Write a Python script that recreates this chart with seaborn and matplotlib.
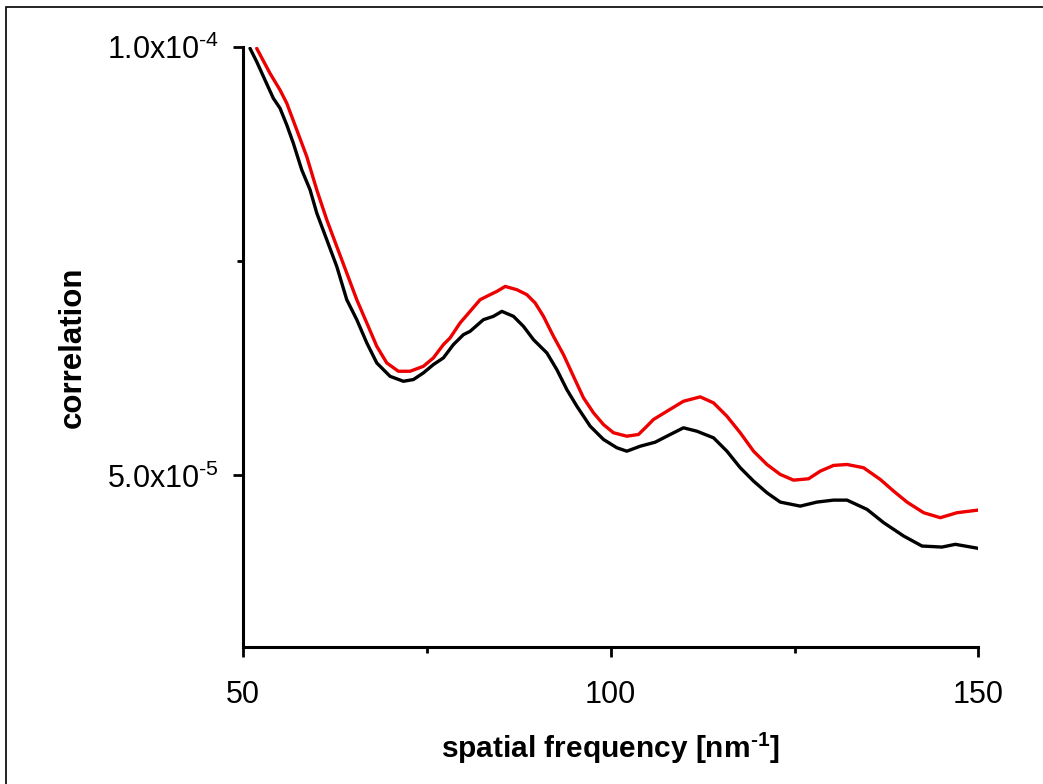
import matplotlib
matplotlib.use("Agg")
import pandas as pd
import seaborn as sns
import matplotlib.pyplot as plt
import matplotlib.ticker as plticker
from matplotlib.patches import Rectangle

# values
freq_black = [50.95, 51.86, 52.99, 54.12, 55.03, 55.95, 56.84, 57.99, 59.12, 60.03,
              61.39, 62.75, 64.11, 65.47, 66.83, 68.19, 70.00, 71.81, 73.17, 74.53,
              75.89, 77.25, 78.61, 79.97, 80.88, 82.69, 84.05, 85.20, 86.78, 88.14,
              89.50, 91.32, 92.68, 94.04, 95.40, 97.21, 99.02, 100.84, 102.20, 104.01,
              106.05, 108.10, 109.90, 111.73, 113.99, 115.81, 117.62, 119.43, 121.25,
              123.06, 125.78, 128.05, 130.31, 132.14, 134.86, 137.12, 139.84, 142.34,
              145.06, 146.87, 150.00]
corr_black = [9.985e-5, 9.829e-5, 9.615e-5, 9.402e-5, 9.286e-5, 9.091e-5, 8.878e-5,
              8.566e-5, 8.333e-5, 8.062e-5, 7.751e-5, 7.439e-5, 7.051e-5, 6.818e-5,
              6.547e-5, 6.313e-5, 6.157e-5, 6.099e-5, 6.119e-5, 6.197e-5, 6.294e-5,
              6.372e-5, 6.527e-5, 6.643e-5, 6.682e-5, 6.818e-5, 6.857e-5, 6.915e-5,
              6.857e-5, 6.740e-5, 6.585e-5, 6.430e-5, 6.235e-5, 6.002e-5, 5.808e-5,
              5.575e-5, 5.420e-5, 5.323e-5, 5.283e-5, 5.341e-5, 5.388e-5, 5.478e-5,
              5.556e-5, 5.516e-5, 5.439e-5, 5.283e-5, 5.090e-5, 4.934e-5, 4.798e-5,
              4.689e-5, 4.642e-5, 4.689e-5, 4.712e-5, 4.712e-5, 4.604e-5, 4.449e-5,
              4.293e-5, 4.176e-5, 4.164e-5, 4.196e-5, 4.149e-5]

freq_red = [51.86, 53.67, 55.03, 55.95, 57.31, 58.67, 60.03, 61.39, 62.75, 64.11,
            65.47, 66.83, 68.19, 69.55, 71.13, 72.72, 74.53, 75.89, 77.25, 78.16,
            79.52, 80.88, 82.24, 83.61, 84.52, 85.65, 87.24, 88.60, 89.73, 90.86,
            92.22, 93.58, 94.94, 96.30, 97.66, 99.02, 100.38, 102.20, 103.78, 104.93,
            105.82, 107.65, 109.90, 112.18, 113.99, 115.81, 117.62, 119.43, 121.25,
            123.06, 124.87, 126.91, 128.50, 130.31, 132.14, 134.39, 136.67, 138.48,
            140.30, 142.56, 144.83, 147.10, 150.00]
corr_red = [9.985e-5, 9.693e-5, 9.499e-5, 9.344e-5, 9.033e-5, 8.721e-5, 8.333e-5,
            7.984e-5, 7.672e-5, 7.362e-5, 7.051e-5, 6.780e-5, 6.507e-5, 6.313e-5,
            6.216e-5, 6.216e-5, 6.274e-5, 6.372e-5, 6.527e-5, 6.605e-5, 6.780e-5,
            6.915e-5, 7.051e-5, 7.110e-5, 7.148e-5, 7.206e-5, 7.168e-5, 7.110e-5,
            7.013e-5, 6.857e-5, 6.624e-5, 6.410e-5, 6.157e-5, 5.906e-5, 5.731e-5,
            5.594e-5, 5.498e-5, 5.458e-5, 5.478e-5, 5.575e-5, 5.653e-5, 5.749e-5,
            5.866e-5, 5.917e-5, 5.847e-5, 5.691e-5, 5.498e-5, 5.283e-5, 5.128e-5,
            5.012e-5, 4.945e-5, 4.961e-5, 5.050e-5, 5.117e-5, 5.128e-5, 5.090e-5,
            4.953e-5, 4.817e-5, 4.689e-5, 4.565e-5, 4.507e-5, 4.565e-5, 4.596e-5]

y_tick_vals = [5.0e-5, 1.0e-4]
y_tick_labels = ["5.0x10$^{\\mathregular{\u20105}}$", "1.0x10$^{\\mathregular{\u20104}}$"]
x_tick_vals = [50, 100, 150]

df = pd.concat([
    pd.DataFrame({"freq": freq_black, "corr": corr_black, "series": "black"}),
    pd.DataFrame({"freq": freq_red, "corr": corr_red, "series": "red"}),
])

sns.set_style("ticks")
plt.rcParams["font.family"] = ["Liberation Sans", "DejaVu Sans"]
plt.rcParams["mathtext.default"] = "regular"
plt.rcParams["text.color"] = "black"
plt.rcParams["axes.labelcolor"] = "black"

fig = plt.figure(figsize=(10.43, 7.84), dpi=100)
ax = fig.add_axes([0.233, 0.175, 0.705, 0.765])

sns.lineplot(data=df, x="freq", y="corr", hue="series",
             palette={"black": "black", "red": "#ee0000"},
             linewidth=2.4, legend=False, sort=False, estimator=None, ax=ax,
             solid_joinstyle="round", solid_capstyle="round")

ax.set_xlim(50, 150)
ax.set_ylim(3.0e-5, 1.0e-4)
ax.set_xticks(x_tick_vals)
ax.set_xticklabels([str(v) for v in x_tick_vals])
ax.xaxis.set_minor_locator(plticker.FixedLocator([75, 125]))
ax.set_yticks(y_tick_vals)
ax.set_yticklabels(y_tick_labels)
ax.yaxis.set_minor_locator(plticker.FixedLocator([7.5e-5]))

ax.tick_params(axis="both", which="major", length=7, width=2, labelsize=22,
               color="black", labelcolor="black")
ax.tick_params(axis="x", which="major", pad=17)
ax.tick_params(axis="y", which="major", pad=10)
ax.tick_params(axis="both", which="minor", length=4.5, width=2, color="black")

for side in ["left", "bottom"]:
    ax.spines[side].set_linewidth(2.2)
    ax.spines[side].set_color("black")
sns.despine(ax=ax)

ax.set_xlabel("spatial frequency [nm$^{\\mathregular{\u20101}}$]", fontsize=21.5,
              fontweight="bold", labelpad=15)
ax.set_ylabel("correlation", fontsize=22.5, fontweight="bold", labelpad=14)

# thin frame around the picture (right/bottom edges fall outside)
fig.patches.append(Rectangle((6 / 1043, -0.5), 2.0, 1.5 - 7 / 784,
                             transform=fig.transFigure, fill=False,
                             edgecolor="black", linewidth=1.2, clip_on=False))

fig.savefig("out.png", dpi=100)
